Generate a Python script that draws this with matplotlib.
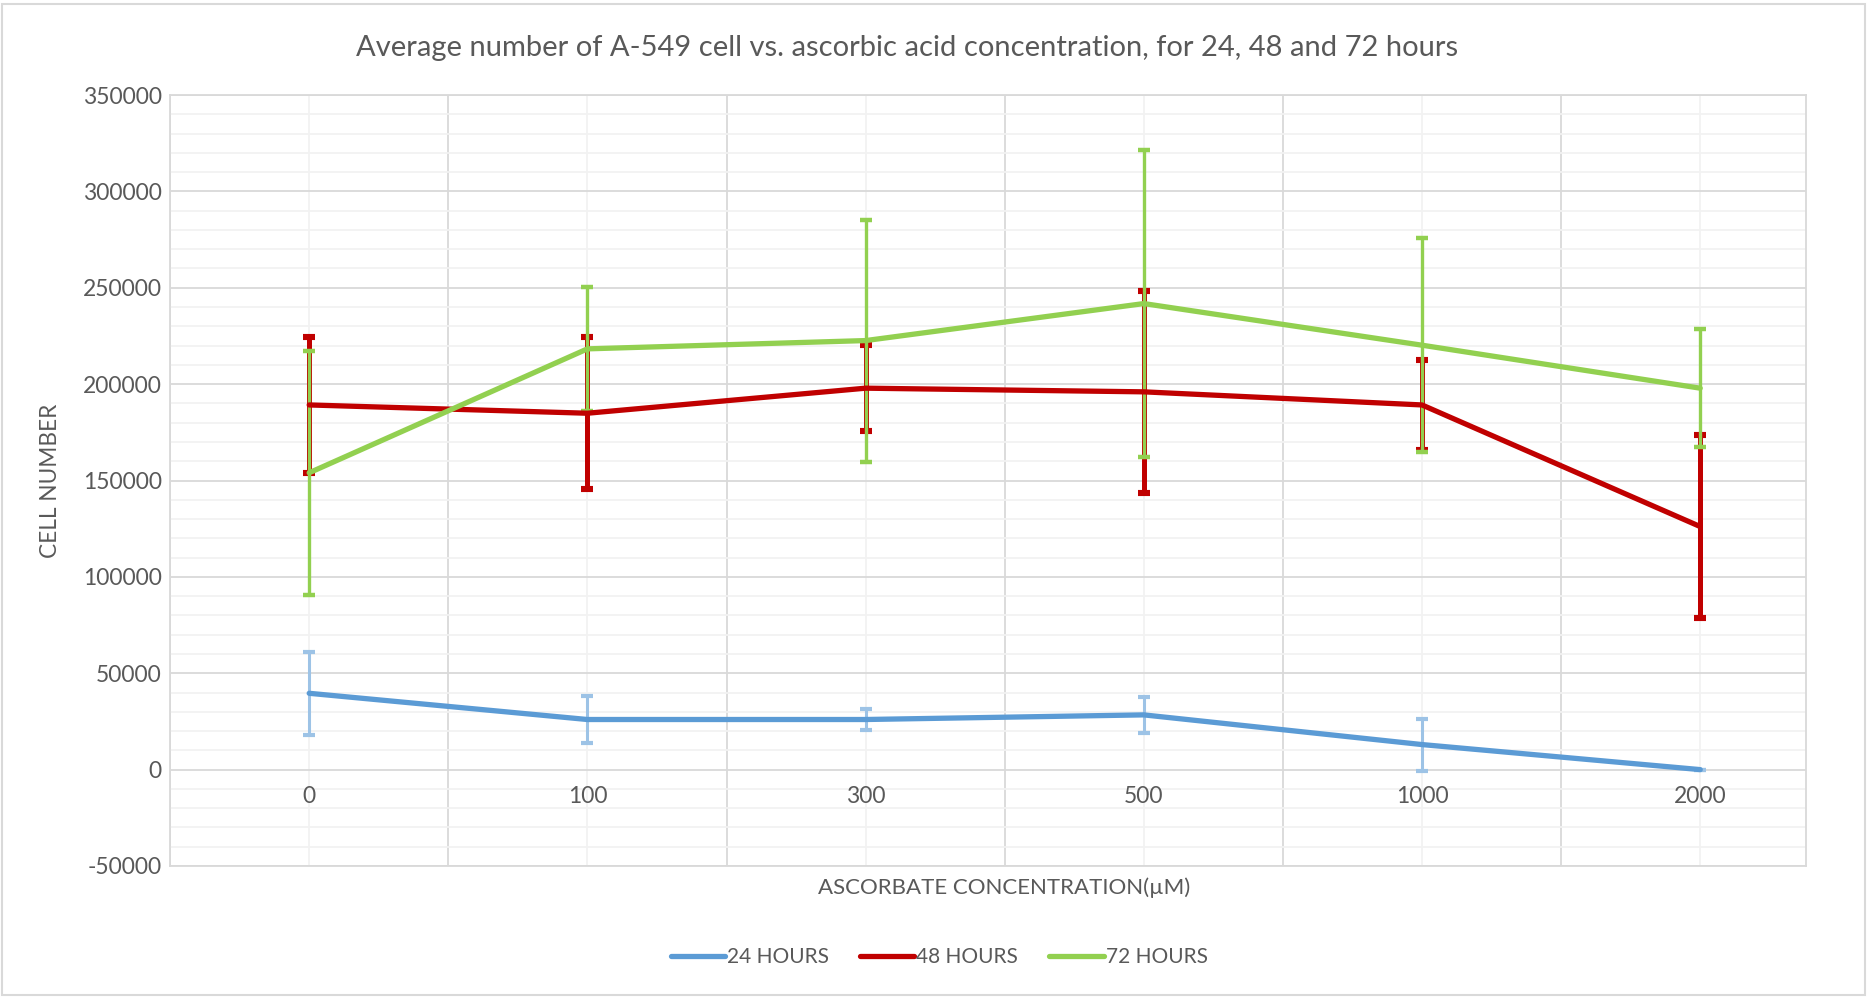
import matplotlib
matplotlib.use("Agg")
import matplotlib.pyplot as plt
from matplotlib.patches import Rectangle
from matplotlib.ticker import MultipleLocator

plt.rcParams['font.family'] = ['Lato', 'DejaVu Sans']
plt.rcParams['axes.unicode_minus'] = False

# data
concentrations = ['0', '100', '300', '500', '1000', '2000']
hours24 = [39600, 26000, 26000, 28400, 13000, 0]
hours24_err = [21600, 12000, 5500, 9300, 13500, 0]
hours48 = [189200, 184900, 197900, 196000, 189200, 126100]
hours48_err = [35500, 39500, 22200, 52500, 23200, 47300]
hours72 = [154000, 218300, 222600, 241800, 220200, 197900]
hours72_err = [63400, 32200, 62800, 79500, 55600, 30600]

series = [
    ('24 HOURS', hours24, hours24_err, '#5B9BD5', '#9DC3E6', 2.2),
    ('48 HOURS', hours48, hours48_err, '#C00000', '#C00000', 3.6),
    ('72 HOURS', hours72, hours72_err, '#92D050', '#92D050', 2.4),
]

text_col = '#595959'

fig = plt.figure(figsize=(18.67, 9.97), dpi=100)
ax = fig.add_axes([0.0911, 0.1314, 0.8762, 0.7733])

xs = list(range(len(concentrations)))
handles = []
for name, vals, errs, col, ecol, elw in series:
    ax.errorbar(xs, vals, yerr=errs, fmt='none', ecolor=ecol, elinewidth=elw,
                capsize=4.5, capthick=elw + 0.8, zorder=3)
    line, = ax.plot(xs, vals, color=col, lw=3.8, solid_capstyle='round',
                    label=name, zorder=4)
    handles.append(line)

ax.yaxis.set_major_locator(MultipleLocator(50000))
ax.yaxis.set_minor_locator(MultipleLocator(10000))
ax.set_xticks([i - 0.5 for i in range(7)])
ax.set_xticks(xs, minor=True)
ax.set_xticklabels([])
ax.set_xlim(-0.5, 5.38)
ax.set_ylim(-50000, 350000)
ax.grid(which='major', color='#D9D9D9', lw=1.3, zorder=0)
ax.grid(which='minor', color='#F2F2F2', lw=1.3, zorder=0)
ax.set_axisbelow(True)
ax.tick_params(which='both', length=0)
ax.tick_params(axis='y', labelsize=16.5, labelcolor=text_col, pad=6)
for sp in ax.spines.values():
    sp.set_color('#D9D9D9')
    sp.set_linewidth(1.3)

# category labels sit under the zero line, as in Excel
for i, lab in enumerate(concentrations):
    ax.annotate(lab, (i, 0), xytext=(0, -12), textcoords='offset points',
                ha='center', va='top', fontsize=16.5, color=text_col)

fig.text(0.486, 0.952, 'Average number of A-549 cell vs. ascorbic acid concentration, for 24, 48 and 72 hours',
         ha='center', va='center', fontsize=21, color=text_col)
fig.text(0.027, 0.518, 'CELL NUMBER', rotation=90, ha='center', va='center',
         fontsize=16.3, color=text_col)
fig.text(0.538, 0.110, 'ASCORBATE CONCENTRATION(\u00b5M)', ha='center', va='center',
         fontsize=16, color=text_col)

fig.legend(handles=handles, loc='center', bbox_to_anchor=(0.503, 0.040), ncol=3,
           frameon=False, fontsize=15, labelcolor=text_col, handlelength=2.6,
           handletextpad=0.1, columnspacing=1.5)

fig.patches.append(Rectangle((0.001, 0.002), 0.998, 0.994, transform=fig.transFigure,
                             fill=False, edgecolor='#D9D9D9', lw=1.5))

fig.savefig('out.png', dpi=100, facecolor='white')
